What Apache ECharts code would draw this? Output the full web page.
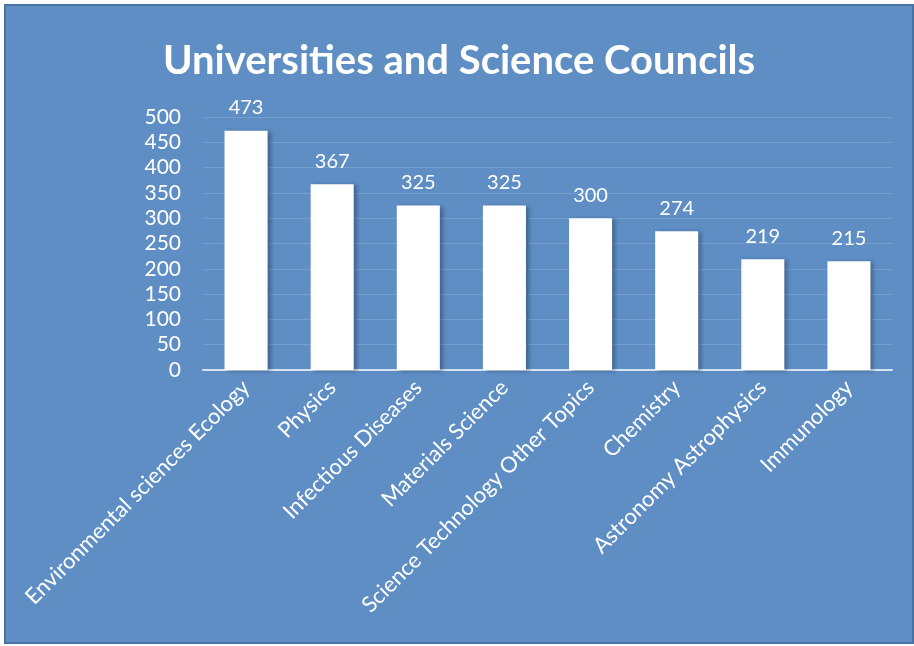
<!DOCTYPE html>
<html>
<head>
<meta charset="utf-8">
<script src="https://cdn.jsdelivr.net/npm/echarts@6/dist/echarts.min.js"></script>
<style>
  html, body { margin: 0; padding: 0; background: #ffffff; }
  #frame {
    position: absolute; left: 4px; top: 4px; width: 906px; height: 636px;
    background: #5e8ec4; border: 2px solid #4a73a3;
  }
  #chart { width: 906px; height: 636px; }
</style>
</head>
<body>
<div id="frame"><div id="chart"></div></div>
<script>
// Publication counts by research field
const categories = [
  'Environmental sciences Ecology',
  'Physics',
  'Infectious Diseases',
  'Materials Science',
  'Science Technology Other Topics',
  'Chemistry',
  'Astronomy Astrophysics',
  'Immunology'
];
const counts = [473, 367, 325, 325, 300, 274, 219, 215];
const yTicks = { min: 0, max: 500, step: 50 };

const chart = echarts.init(document.getElementById('chart'));
const font = 'Lato, "Open Sans", sans-serif';

chart.setOption({
  animation: false,
  backgroundColor: 'transparent',
  title: {
    text: 'Universities and Science Councils',
    left: 'center',
    top: 30,
    textStyle: { color: '#ffffff', fontFamily: font, fontWeight: 'bold', fontSize: 40 }
  },
  grid: { left: 197, right: 20, top: 111, bottom: 272 },
  xAxis: {
    type: 'category',
    data: categories,
    axisLine: { show: true, lineStyle: { color: '#d6e3f2', width: 2 } },
    axisTick: { show: false },
    axisLabel: {
      interval: 0,
      rotate: 45,
      color: '#ffffff',
      fontFamily: font,
      fontSize: 22,
      margin: 14
    }
  },
  yAxis: {
    type: 'value',
    min: yTicks.min,
    max: yTicks.max,
    interval: yTicks.step,
    axisLine: { show: false },
    axisTick: { show: false },
    splitLine: { lineStyle: { color: 'rgba(255,255,255,0.15)', width: 1 } },
    axisLabel: { color: '#ffffff', fontFamily: font, fontSize: 21, margin: 22 }
  },
  series: [{
    type: 'bar',
    data: counts,
    barWidth: '50%',
    itemStyle: {
      color: '#ffffff',
      shadowColor: 'rgba(30,50,80,0.45)',
      shadowBlur: 4,
      shadowOffsetX: 3,
      shadowOffsetY: 1
    },
    label: {
      show: true,
      position: 'top',
      distance: 13,
      color: '#ffffff',
      fontFamily: font,
      fontSize: 20
    }
  }]
});
</script>
</body>
</html>
